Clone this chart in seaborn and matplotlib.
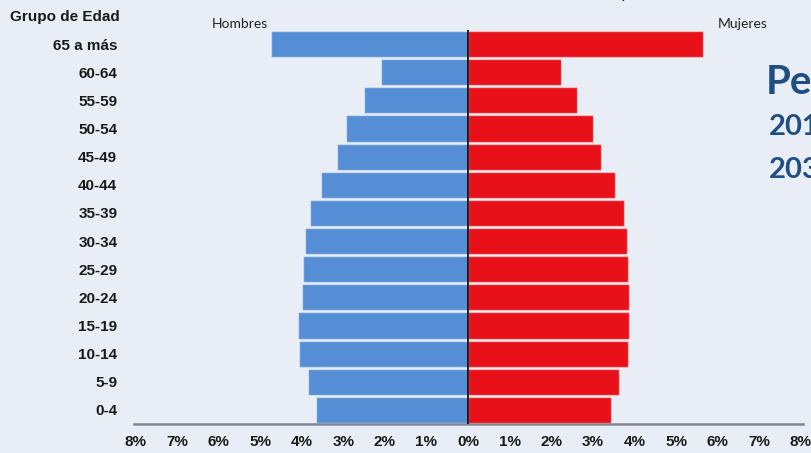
import seaborn as sns
import numpy as np
import pandas as pd
import matplotlib.pyplot as plt

# grupos de edad, de arriba hacia abajo
grupos = ['65 a más', '60-64', '55-59', '50-54', '45-49', '40-44', '35-39',
          '30-34', '25-29', '20-24', '15-19', '10-14', '5-9', '0-4']
hombres = [4.74, 2.09, 2.50, 2.93, 3.15, 3.53, 3.80, 3.92, 3.97, 3.99, 4.09, 4.06, 3.85, 3.66]
mujeres = [5.65, 2.24, 2.62, 3.00, 3.20, 3.53, 3.75, 3.82, 3.85, 3.87, 3.87, 3.84, 3.63, 3.44]
ticks = list(range(-8, 9))

bg = '#E9EEF6'
arial = ['Liberation Sans', 'DejaVu Sans']
calibri = ['Lato', 'DejaVu Sans']
txt = '#1A1A1A'

sns.set_style('white')
plt.rcParams['font.family'] = arial

fig = plt.figure(figsize=(8.12, 4.53), dpi=100, facecolor=bg)
ax = fig.add_axes([134 / 812, 1 - 424 / 453, (803 - 134) / 812, (424 - 30) / 453])
ax.set_facecolor(bg)

df = pd.DataFrame({'grupo': grupos, 'h': -np.array(hombres), 'm': mujeres})
sns.barplot(data=df, y='grupo', x='h', orient='h', color='#558ED5', saturation=1,
            width=0.93, edgecolor=(1, 1, 1, 0.45), linewidth=1, ax=ax)
sns.barplot(data=df, y='grupo', x='m', orient='h', color='#E81119', saturation=1,
            width=0.93, edgecolor=(1, 1, 1, 0.45), linewidth=1, ax=ax)

ax.set_xlim(-8.03, 8.05)
ax.set_ylim(13.5, -0.5)
ax.axvline(0, color='#111111', lw=1.3, zorder=5)
ax.set_xticks(ticks)
ax.set_xticklabels(['{}%'.format(abs(t)) for t in ticks], fontweight='bold', fontsize=11)
ax.tick_params(axis='x', length=0, pad=8, colors=txt)
ax.tick_params(axis='y', length=0, pad=12, colors=txt)
for lab in ax.get_yticklabels():
    lab.set_fontweight('bold')
    lab.set_fontsize(11)
ax.set_xlabel('')
ax.set_ylabel('')
for s in ['top', 'right', 'left']:
    ax.spines[s].set_visible(False)
ax.spines['bottom'].set_color('#808891')
ax.spines['bottom'].set_linewidth(1.8)

fig.text(10 / 812, 1 - 17 / 453, 'Grupo de Edad', fontweight='bold', fontsize=11, va='center', ha='left',
         color=txt)
fig.text(240 / 812, 1 - 24 / 453, 'Hombres', family=calibri, fontsize=10, va='center', ha='center', color='#222222')
fig.text(743 / 812, 1 - 24 / 453, 'Mujeres', family=calibri, fontsize=10, va='center', ha='center', color='#222222')

azul = '#1F4E82'
fig.text(766 / 812, 1 - 82 / 453, 'Perú', family=calibri, fontweight='bold', fontsize=29, color=azul, va='center')
fig.text(769 / 812, 1 - 127 / 453, '2015', family=calibri, fontweight='bold', fontsize=21, color=azul, va='center')
fig.text(769 / 812, 1 - 170 / 453, '2030', family=calibri, fontweight='bold', fontsize=21, color=azul, va='center')
# titulo recortado arriba
fig.text(620 / 812, 1.004, 'y', family=calibri, fontsize=13, color='#222222', va='baseline')

plt.savefig('out.png', dpi=100, facecolor=bg)
